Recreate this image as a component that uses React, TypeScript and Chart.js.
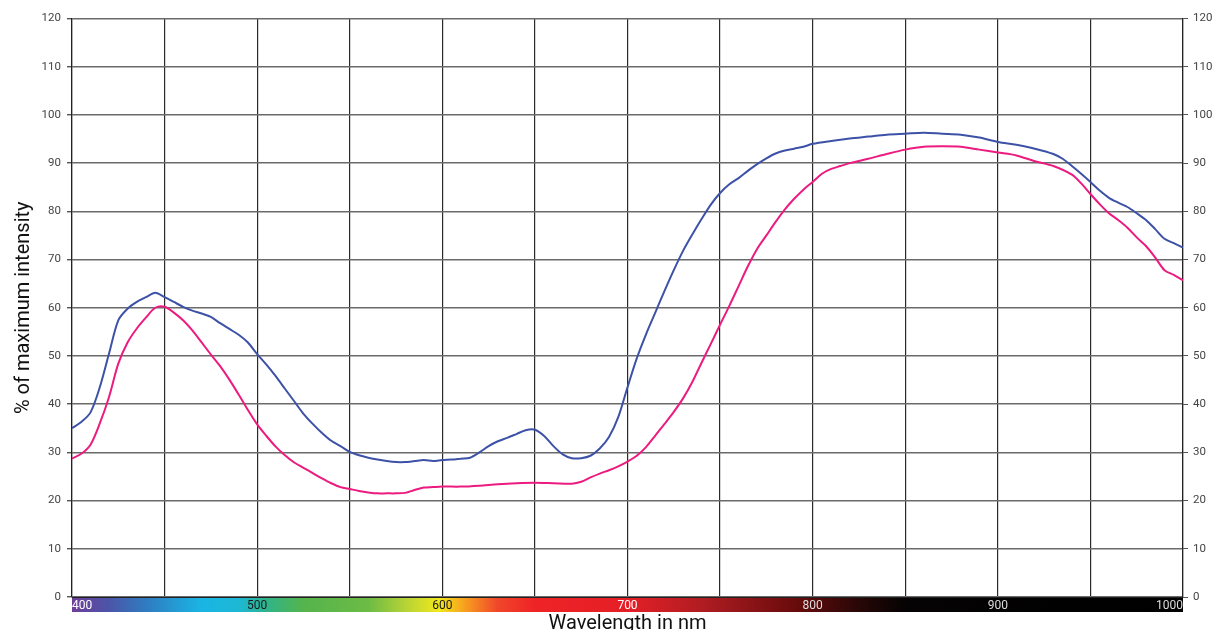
import { useEffect, useRef } from "react";
import { Chart, registerables } from "chart.js";

Chart.register(...registerables);

const blueNm = [
  400, 405, 410, 415, 420, 425, 430, 435, 440, 445, 450, 455, 460, 465, 470, 475, 480, 485, 490, 495,
  500, 505, 510, 515, 520, 525, 530, 535, 540, 545, 550, 555, 560, 565, 570, 575, 580, 585, 590, 595,
  600, 605, 610, 615, 620, 625, 630, 635, 640, 645, 650, 655, 660, 665, 670, 675, 680, 685, 690, 695,
  700, 705, 710, 715, 720, 725, 730, 735, 740, 745, 750, 755, 760, 765, 770, 775, 780, 785, 790, 795,
  800, 810, 820, 830, 840, 850, 860, 870, 880, 890, 900, 910, 920,
  930, 935, 940, 945, 950, 955, 960, 965, 970, 975, 980, 985, 990, 995, 1000,
];
const blueValues = [
  35.0, 36.3, 38.3, 43.5, 50.5, 57.4, 59.8, 61.2, 62.2, 63.1, 62.2, 61.2, 60.2, 59.4, 58.8, 58.1, 56.8, 55.6, 54.4, 52.8,
  50.4, 48.2, 45.8, 43.2, 40.6, 38.0, 35.9, 34.0, 32.4, 31.3, 30.1, 29.4, 28.9, 28.5, 28.2, 28.0, 28.0, 28.2, 28.4, 28.2,
  28.4, 28.5, 28.7, 28.9, 30.0, 31.3, 32.3, 33.0, 33.8, 34.6, 34.7, 33.4, 31.3, 29.6, 28.8, 28.8, 29.3, 30.8, 33.2, 37.3,
  43.5, 49.5, 54.5, 59.0, 63.5, 67.8, 71.8, 75.2, 78.4, 81.4, 83.8, 85.6, 86.9, 88.4, 89.8, 91.0, 92.0, 92.6, 93.0, 93.4,
  94.0, 94.6, 95.1, 95.5, 95.9, 96.1, 96.3, 96.1, 95.9, 95.3, 94.4, 93.8, 93.0,
  91.9, 90.9, 89.4, 87.8, 86.1, 84.3, 82.8, 81.8, 80.9, 79.6, 78.2, 76.3, 74.3, 73.4, 72.5,
];

const pinkNm = [
  400, 405, 410, 415, 420, 425, 430, 435, 440, 445, 450, 455, 460, 465, 470, 475, 480, 485, 490, 495,
  500, 505, 510, 515, 520, 525, 530, 535, 540, 545, 550, 555, 560, 565, 570, 575, 580, 585, 590, 595,
  600, 610, 620, 630, 640, 650, 660, 670,
  675, 680, 685, 690, 695, 700, 705, 710, 715, 720, 725, 730, 735, 740, 745, 750, 755, 760, 765, 770,
  775, 780, 785, 790, 795, 800, 805, 810, 815, 820,
  830, 840, 850, 860, 870, 880, 890, 900, 910, 920, 930,
  940, 945, 950, 955, 960, 965, 970, 975, 980, 985, 990, 995, 1000,
];
const pinkValues = [
  28.7, 29.7, 31.6, 36.0, 41.5, 48.4, 52.8, 55.7, 58.0, 60.0, 60.2, 59.0, 57.4, 55.3, 52.8, 50.3, 47.9, 45.1, 42.0, 38.8,
  35.8, 33.4, 31.2, 29.4, 27.9, 26.8, 25.7, 24.6, 23.6, 22.8, 22.4, 22.0, 21.7, 21.5, 21.5, 21.5, 21.6, 22.2, 22.7, 22.8,
  22.9, 22.9, 23.1, 23.4, 23.6, 23.7, 23.6, 23.5,
  23.9, 24.8, 25.6, 26.3, 27.1, 28.1, 29.3, 31.1, 33.5, 35.9, 38.4, 41.2, 44.6, 48.6, 52.5, 56.5, 60.4, 64.5, 68.6, 72.2,
  75.0, 77.8, 80.4, 82.6, 84.5, 86.1, 87.8, 88.8, 89.4, 90.0,
  90.9, 91.9, 92.8, 93.4, 93.5, 93.4, 92.8, 92.2, 91.6, 90.4, 89.4,
  87.6, 85.8, 83.6, 81.5, 79.6, 78.2, 76.6, 74.6, 72.8, 70.4, 67.8, 66.8, 65.7,
];

const xTickValues = [400, 500, 600, 700, 800, 900, 1000];
const xTickLabels = ["400", "500", "600", "700", "800", "900", "1000"];
const xTickColors = ["#ffffff", "#1a1a1a", "#1a1a1a", "#ffffff", "#dddddd", "#dddddd", "#dddddd"];

const spectrumNm = [400, 420, 440, 470, 490, 505, 525, 560, 580, 598, 612, 630, 650, 700, 740, 790, 825, 850, 1000];
const spectrumColors = [
  "#6e3e99", "#4b55a8", "#2f7cc0", "#1ab5e4", "#1db8d4", "#2fb48a", "#55b44c", "#6cbb45", "#b5d336",
  "#f1e81b", "#f7a01f", "#f0462a", "#ee2326", "#e51f27", "#b01d22", "#6a0b0c", "#280707", "#050303", "#000000",
];

const spectrumPlugin = {
  id: "spectrumBar",
  beforeDraw(chart: any) {
    const { ctx, chartArea, scales } = chart;
    const xs = scales.x;
    const x0 = xs.getPixelForValue(400);
    const x1 = xs.getPixelForValue(1000);
    const g = ctx.createLinearGradient(x0, 0, x1, 0);
    spectrumNm.forEach((nm, i) => g.addColorStop((nm - 400) / 600, spectrumColors[i]));
    ctx.save();
    ctx.fillStyle = g;
    ctx.fillRect(x0, chartArea.bottom, x1 - x0, 15);
    ctx.restore();
  },
};

export default function App() {
  const ref = useRef<HTMLCanvasElement>(null);
  useEffect(() => {
    const tickFont = { family: "Roboto", size: 11.5 };
    const chart = new Chart(ref.current!, {
      type: "line",
      data: {
        datasets: [
          {
            label: "blue",
            data: blueNm.map((x, i) => ({ x, y: blueValues[i] })),
            borderColor: "#3d52a6",
            borderWidth: 2,
            pointRadius: 0,
            tension: 0.3,
            fill: false,
            yAxisID: "y",
          },
          {
            label: "pink",
            data: pinkNm.map((x, i) => ({ x, y: pinkValues[i] })),
            borderColor: "#ec1b7f",
            borderWidth: 2,
            pointRadius: 0,
            tension: 0.3,
            fill: false,
            yAxisID: "y",
          },
        ],
      },
      options: {
        animation: false,
        responsive: true,
        maintainAspectRatio: false,
        layout: { padding: { top: 18.5, left: 0, right: 0, bottom: 0 } },
        plugins: { legend: { display: false }, tooltip: { enabled: false } },
        scales: {
          x: {
            type: "linear",
            position: "bottom",
            min: 400,
            max: 1000,
            afterFit: (s: any) => {
              s.height = 43;
            },
            ticks: {
              stepSize: 50,
              autoSkip: false,
              maxRotation: 0,
              align: "inner",
              padding: 2,
              font: { family: "Roboto", size: 12 },
              color: (c: any) => {
                const i = xTickValues.indexOf(c.tick.value);
                return i >= 0 ? xTickColors[i] : "#000";
              },
              callback: (v: any) => {
                const i = xTickValues.indexOf(Number(v));
                return i >= 0 ? xTickLabels[i] : "";
              },
            },
            grid: { color: "#2a2a2a", lineWidth: 1.2, drawTicks: false },
            border: { color: "#222" },
            title: {
              display: true,
              text: "Wavelength in nm",
              font: { family: "Roboto", size: 20 },
              color: "#111",
              padding: { top: 0, bottom: 4.5 },
            },
          },
          y: {
            position: "left",
            min: 0,
            max: 120,
            afterFit: (s: any) => {
              s.width = 72;
            },
            ticks: { stepSize: 10, font: tickFont, color: "#444", padding: 6 },
            grid: { color: "#6a6a6a", lineWidth: 1.4, tickLength: 5, tickColor: "#555" },
            border: { color: "#222", width: 1.2 },
            title: {
              display: true,
              text: "% of maximum intensity",
              font: { family: "Roboto", size: 20 },
              color: "#111",
              padding: { top: 11.7, bottom: 0 },
            },
          },
          y2: {
            position: "right",
            min: 0,
            max: 120,
            afterFit: (s: any) => {
              s.width = 33;
            },
            ticks: { stepSize: 10, font: tickFont, color: "#444", padding: 5 },
            grid: { drawOnChartArea: false, tickLength: 5, tickColor: "#555" },
            border: { color: "#222", width: 1.2 },
          },
        },
      },
      plugins: [spectrumPlugin],
    } as any);
    return () => chart.destroy();
  }, []);
  return (
    <div
      style={{
        position: "fixed",
        left: 0,
        top: 0,
        width: 1216,
        height: 630,
        overflow: "hidden",
        background: "#fff",
      }}
    >
      <div style={{ position: "relative", width: 1216, height: 640 }}>
        <canvas ref={ref} />
      </div>
    </div>
  );
}
